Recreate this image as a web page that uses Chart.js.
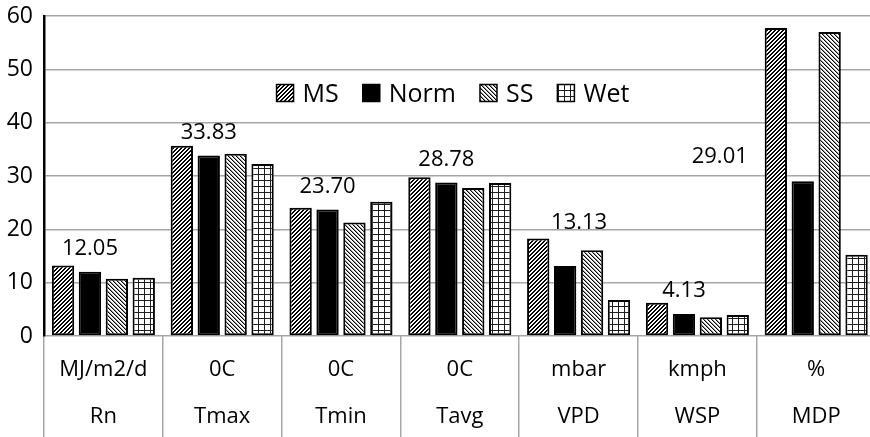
<!DOCTYPE html>
<html>
<head>
<meta charset="utf-8">
<script src="https://cdn.jsdelivr.net/npm/chart.js@4/dist/chart.umd.min.js"></script>
<style>
  html, body { margin: 0; padding: 0; background: #fff; overflow: hidden; }
  #wrap { width: 880px; height: 437px; }
</style>
</head>
<body>
<div id="wrap"><canvas id="c"></canvas></div>
<script>
// Units (first label row) and variable names (second label row)
const units = ['MJ/m2/d', '0C', '0C', '0C', 'mbar', 'kmph', '%'];
const variables = ['Rn', 'Tmax', 'Tmin', 'Tavg', 'VPD', 'WSP', 'MDP'];

// Series values per variable
const msValues   = [13.2, 35.65, 24.05, 29.75, 18.3, 6.25, 57.75];
const normValues = [12.05, 33.83, 23.70, 28.78, 13.13, 4.13, 29.01];
const ssValues   = [10.75, 34.15, 21.3, 27.75, 16.1, 3.5, 57.0];
const wetValues  = [10.9, 32.25, 25.15, 28.7, 6.75, 3.95, 15.25];

// Value axis ticks
const yTicks = [0, 10, 20, 30, 40, 50, 60];

const FONT = '"Open Sans", "DejaVu Sans", sans-serif';
const canvas = document.getElementById('c');
const mainCtx = canvas.getContext('2d');

// Pixel-level hatch tiles used as bar fills
function makePattern(kind) {
  const s = kind === 'grid' ? 6 : 4;
  const tile = document.createElement('canvas');
  tile.width = s; tile.height = s;
  const g = tile.getContext('2d');
  const img = g.createImageData(s, s);
  for (let y = 0; y < s; y++) {
    for (let x = 0; x < s; x++) {
      let v = 255;
      if (kind === 'up') v = ((x + y) % 4) < 2 ? 0 : 255;
      else if (kind === 'down') {
        const k = (x - y + 8) % 4;
        v = k === 0 ? 0 : (k === 1 ? 150 : 255);
      }
      else if (kind === 'grid') v = (x === 0 || y === 0) ? 30 : 255;
      const i = (y * s + x) * 4;
      img.data[i] = v; img.data[i + 1] = v; img.data[i + 2] = v; img.data[i + 3] = 255;
    }
  }
  g.putImageData(img, 0, 0);
  return mainCtx.createPattern(tile, 'repeat');
}

const fills = {
  MS: makePattern('up'),
  Norm: '#000000',
  SS: makePattern('down'),
  Wet: makePattern('grid')
};

// Legend drawn inside the plot area
const insideLegend = {
  id: 'insideLegend',
  afterDraw(chart, args, opts) {
    const ctx = chart.ctx;
    ctx.save();
    ctx.font = opts.fontSize + 'px ' + FONT;
    const items = chart.data.datasets.map(ds => ({
      text: ds.label, fill: ds.backgroundColor, w: ctx.measureText(ds.label).width
    }));
    const box = opts.boxSize, gap = opts.textGap, spacing = opts.itemGap;
    const total = items.reduce((s, it) => s + box + gap + it.w, 0) + spacing * (items.length - 1);
    let x = opts.centerX - total / 2;
    items.forEach(it => {
      ctx.fillStyle = it.fill;
      ctx.fillRect(x, opts.boxTop, box, box);
      ctx.strokeStyle = '#000';
      ctx.lineWidth = 1.5;
      ctx.strokeRect(x, opts.boxTop, box, box);
      ctx.fillStyle = '#000';
      ctx.textBaseline = 'alphabetic';
      ctx.textAlign = 'left';
      ctx.fillText(it.text, x + box + gap, opts.baseline);
      x += box + gap + it.w + spacing;
    });
    ctx.restore();
  }
};

// Value labels above the Norm bars
const normLabels = {
  id: 'normLabels',
  afterDatasetsDraw(chart, args, opts) {
    const ctx = chart.ctx;
    const meta = chart.getDatasetMeta(opts.datasetIndex);
    const values = chart.data.datasets[opts.datasetIndex].data;
    ctx.save();
    ctx.font = opts.fontSize + 'px ' + FONT;
    ctx.fillStyle = '#000';
    ctx.textAlign = 'center';
    ctx.textBaseline = 'alphabetic';
    meta.data.forEach((bar, i) => {
      const shift = opts.shift[i] || { dx: 0, dy: 0 };
      ctx.fillText(values[i].toFixed(2), bar.x + shift.dx, bar.y + opts.lift + shift.dy);
    });
    ctx.restore();
  }
};

const series = [
  { label: 'MS', data: msValues },
  { label: 'Norm', data: normValues },
  { label: 'SS', data: ssValues },
  { label: 'Wet', data: wetValues }
];

new Chart(canvas, {
  type: 'bar',
  data: {
    labels: units.map((u, i) => [u, variables[i]]),
    datasets: series.map(s => ({
      label: s.label,
      data: s.data,
      backgroundColor: fills[s.label],
      borderColor: '#000',
      borderWidth: 2,
      borderSkipped: false,
      categoryPercentage: 0.906,
      barPercentage: 0.83
    }))
  },
  options: {
    responsive: true,
    maintainAspectRatio: false,
    animation: false,
    devicePixelRatio: 1,
    layout: { padding: { top: 0, right: 4.4, bottom: 0, left: 0 } },
    plugins: {
      legend: { display: false },
      tooltip: { enabled: false },
      insideLegend: { centerX: 453, boxTop: 84.5, boxSize: 17, textGap: 9, itemGap: 24, baseline: 101.5, fontSize: 25 },
      normLabels: { datasetIndex: 1, fontSize: 22, lift: -17, shift: { 4: { dx: 14, dy: -20 }, 6: { dx: -83, dy: -1 } } }
    },
    scales: {
      x: {
        grid: { offset: true, drawOnChartArea: false, drawTicks: true, tickLength: 101, tickColor: '#a6a6a6', lineWidth: 1.5 },
        border: { display: false },
        ticks: {
          font: { family: FONT, size: 22, lineHeight: '47px' },
          color: '#000', padding: -90.5, maxRotation: 0, minRotation: 0, autoSkip: false
        },
        afterFit(scale) { scale.height = 101; }
      },
      y: {
        min: 0, max: 60,
        afterBuildTicks(scale) { scale.ticks = yTicks.map(v => ({ value: v })); },
        ticks: { font: { family: FONT, size: 23, lineHeight: '10px' }, color: '#000', padding: 11 },
        grid: { color: '#a6a6a6', lineWidth: 1.5, drawTicks: false },
        border: { color: '#000', width: 2.5 },
        afterFit(scale) { scale.width = 44; }
      }
    }
  },
  plugins: [insideLegend, normLabels]
});
</script>
</body>
</html>
